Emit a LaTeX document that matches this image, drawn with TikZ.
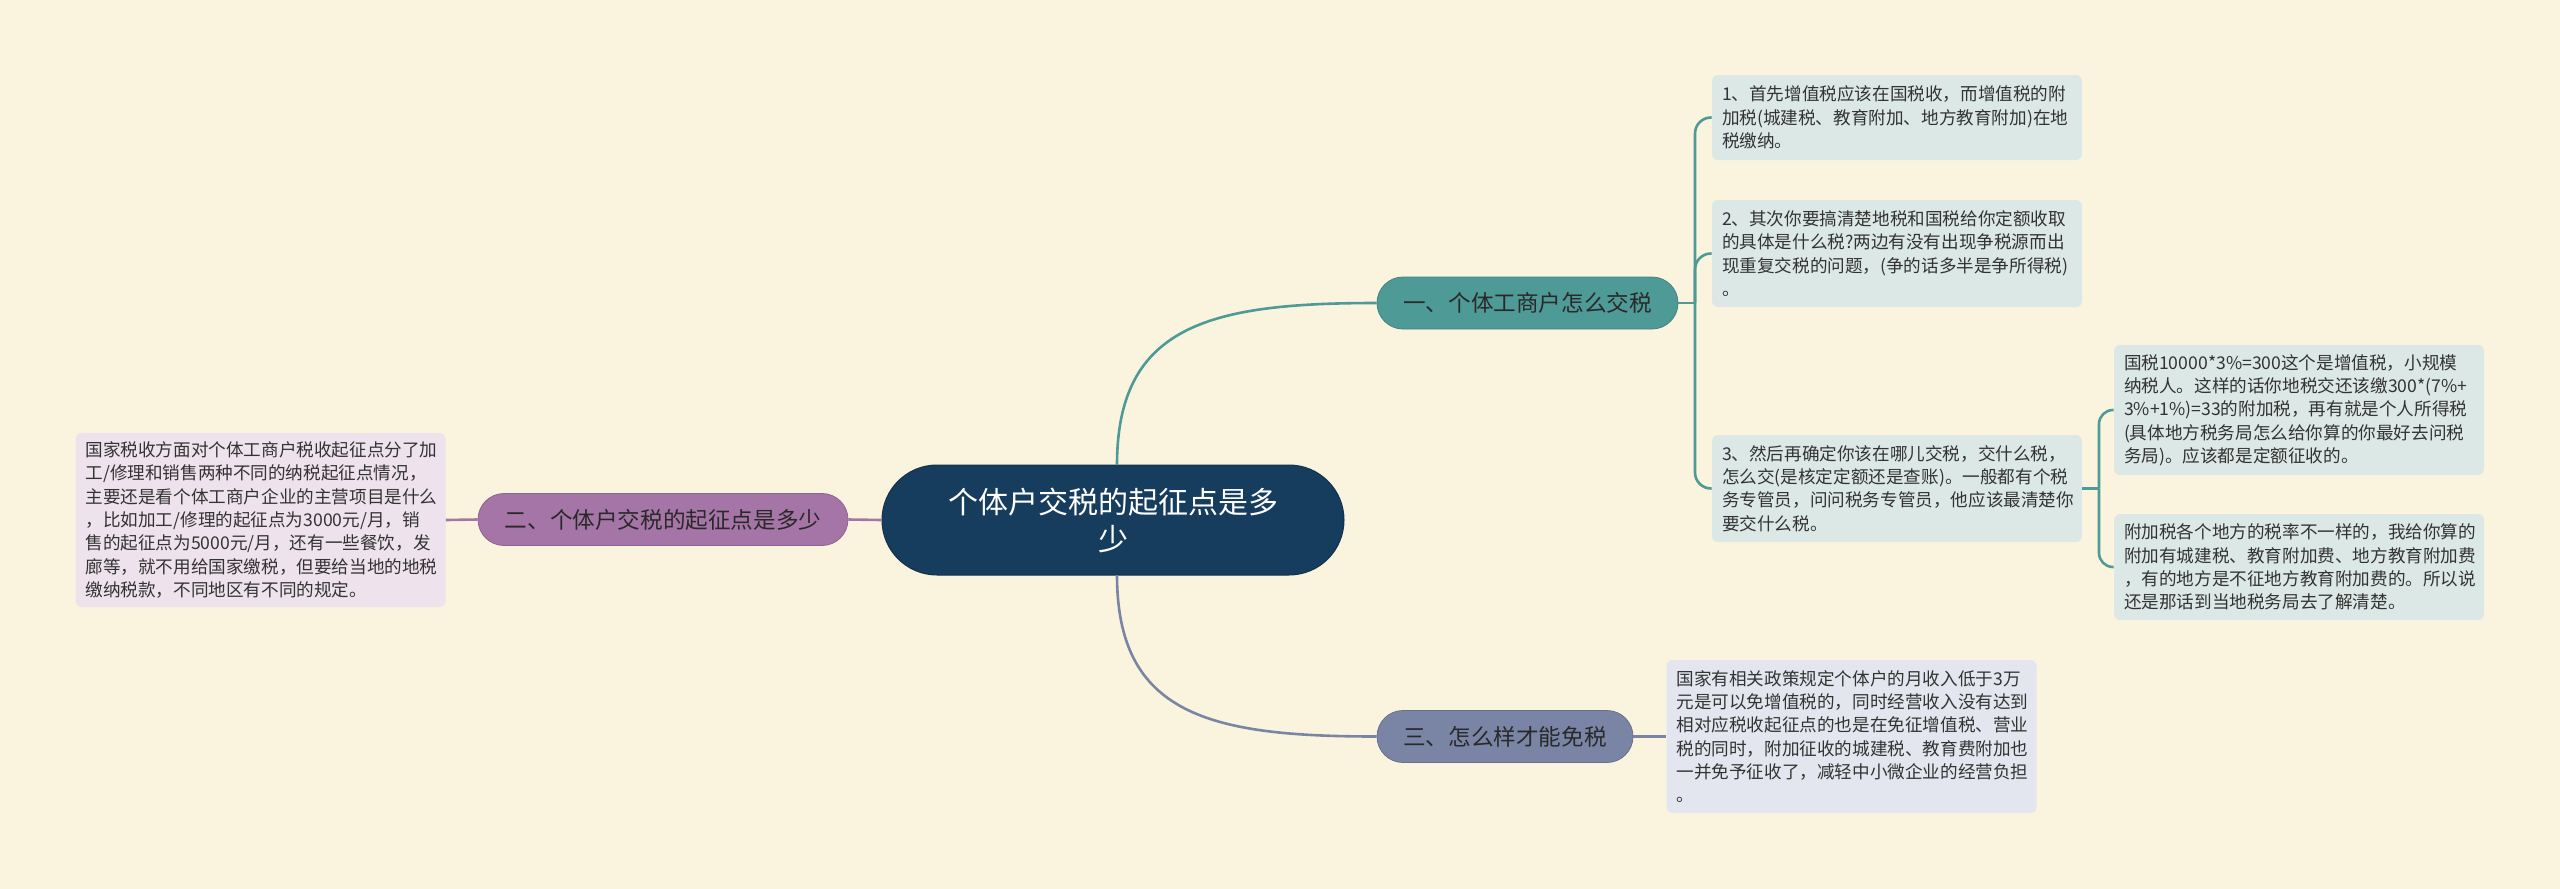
\documentclass[tikz,border=0pt]{standalone}
\usepackage{fontspec}
\setmainfont{Noto Sans CJK SC}
\definecolor{bgc}{HTML}{FAF4DF}
\definecolor{rootc}{HTML}{173D5E}
\definecolor{tealc}{HTML}{4E9A97}
\definecolor{purpc}{HTML}{A675A8}
\definecolor{slatec}{HTML}{7A85A5}
\definecolor{leaftc}{HTML}{DCE8E5}
\definecolor{leafpc}{HTML}{EEE3EC}
\definecolor{leafsc}{HTML}{E3E6EE}
\definecolor{txtc}{HTML}{333333}
\tikzset{
  rootbox/.style={fill=rootc, draw=rootc!80!black, line width=0.5pt, rounded corners=27.5pt,
    minimum width=231pt, minimum height=55pt, inner sep=0pt, align=center, text=white,
    font=\fontsize{15pt}{18.5pt}\selectfont},
  branchbox/.style={rounded corners=13pt, inner sep=0pt, minimum height=26pt, text=txtc!80!black,
    font=\fontsize{11.3pt}{13pt}\selectfont},
  leafbox/.style={rounded corners=3pt, inner xsep=5pt, inner ysep=0pt, text width=175pt,
    align=left, text=txtc, font=\fontsize{8.8pt}{11.65pt}\selectfont},
  tline/.style={draw=tealc, line width=1.3pt},
  pline/.style={draw=purpc, line width=1.3pt},
  sline/.style={draw=slatec, line width=1.3pt},
}
\begin{document}
\begin{tikzpicture}[x=0.5pt,y=-0.5pt]
\fill[bgc] (0,0) rectangle (2560,889);
\useasboundingbox (0,0) rectangle (2560,889);

% root
\node[rootbox] (root) at (1113,520) {个体户交税的起征点是多\\少};

% branches
\node[branchbox, fill=tealc, draw=tealc!85!black, minimum width=150.5pt] (b1) at (1527.5,303) {一、个体工商户怎么交税};
\node[branchbox, fill=purpc, draw=purpc!85!black, minimum width=185pt] (b2) at (663,519.5) {二、个体户交税的起征点是多少};
\node[branchbox, fill=slatec, draw=slatec!85!black, minimum width=128pt] (b3) at (1505,736.5) {三、怎么样才能免税};

% leaves of branch 1
\node[leafbox, fill=leaftc, minimum height=42.5pt] (l1) at (1897,117.5)
  {1、首先增值税应该在国税收，而增值税的附\\加税(城建税、教育附加、地方教育附加)在地\\税缴纳。};
\node[leafbox, fill=leaftc, minimum height=53.5pt] (l2) at (1897,253.5)
  {2、其次你要搞清楚地税和国税给你定额收取\\的具体是什么税?两边有没有出现争税源而出\\现重复交税的问题，(争的话多半是争所得税)\\。};
\node[leafbox, fill=leaftc, minimum height=53.5pt] (l3) at (1897,488.5)
  {3、然后再确定你该在哪儿交税，交什么税，\\怎么交(是核定定额还是查账)。一般都有个税\\务专管员，问问税务专管员，他应该最清楚你\\要交什么税。};
\node[leafbox, fill=leaftc, minimum height=65pt] (l3a) at (2299,410)
  {国税10000*3\%=300这个是增值税，小规模\\纳税人。这样的话你地税交还该缴300*(7\%+\\3\%+1\%)=33的附加税，再有就是个人所得税\\(具体地方税务局怎么给你算的你最好去问税\\务局)。应该都是定额征收的。};
\node[leafbox, fill=leaftc, minimum height=53pt] (l3b) at (2299,567)
  {附加税各个地方的税率不一样的，我给你算的\\附加有城建税、教育附加费、地方教育附加费\\，有的地方是不征地方教育附加费的。所以说\\还是那话到当地税务局去了解清楚。};

% leaf of branch 2
\node[leafbox, fill=leafpc, minimum height=87pt] (l5) at (260.5,520)
  {国家税收方面对个体工商户税收起征点分了加\\工/修理和销售两种不同的纳税起征点情况，\\主要还是看个体工商户企业的主营项目是什么\\，比如加工/修理的起征点为3000元/月，销\\售的起征点为5000元/月，还有一些餐饮，发\\廊等，就不用给国家缴税，但要给当地的地税\\缴纳税款，不同地区有不同的规定。};

% leaf of branch 3
\node[leafbox, fill=leafsc, minimum height=76.5pt] (l4) at (1851.5,736.5)
  {国家有相关政策规定个体户的月收入低于3万\\元是可以免增值税的，同时经营收入没有达到\\相对应税收起征点的也是在免征增值税、营业\\税的同时，附加征收的城建税、教育费附加也\\一并免予征收了，减轻中小微企业的经营负担\\。};

% connectors root -> branches
\coordinate (rt) at (1117,465);
\coordinate (rb) at (1117,575);
\draw[tline] (rt) .. controls (1117,325) and (1210,303) .. (b1.west);
\draw[sline] (rb) .. controls (1117,715) and (1210,736.5) .. (b3.west);
\draw[pline] (root.west) -- (b2.east);
\draw[pline] (b2.west) -- (l5.east);
\draw[sline] (b3.east) -- (l4.west);

% branch 1 bracket
\coordinate (j1) at (1695,303);
\draw[tline] (b1.east) -- (j1);
\draw[tline, rounded corners=8pt] (j1) |- (l1.west);
\draw[tline, rounded corners=8pt] (j1) |- (l2.west);
\draw[tline, rounded corners=8pt] (j1) |- (l3.west);

% leaf 3 bracket
\coordinate (j2) at (2099,488.5);
\draw[tline] (l3.east) -- (j2);
\draw[tline, rounded corners=7pt] (j2) |- (l3a.west);
\draw[tline, rounded corners=7pt] (j2) |- (l3b.west);
\end{tikzpicture}
\end{document}
